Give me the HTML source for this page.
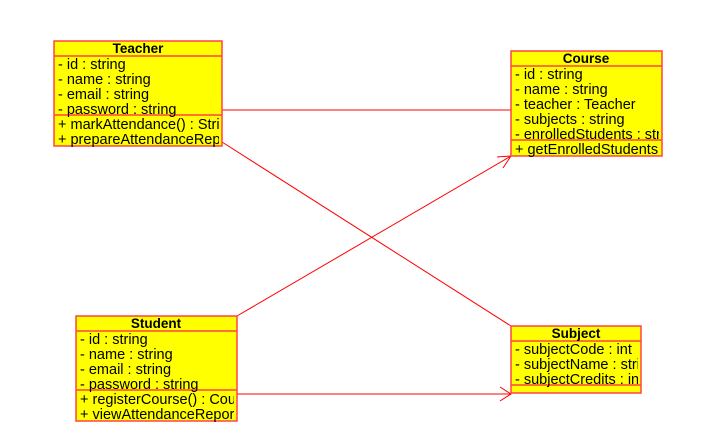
<!DOCTYPE html>
<html><head><style>body{margin:0;background:#fff}svg{display:block}text{font-family:"Liberation Sans",Arial,sans-serif;font-size:14.5px;fill:#000}.h{font-weight:bold;text-anchor:middle;font-size:13.5px}</style></head><body>
<svg width="705" height="435" viewBox="0 0 705 435">
<defs>
<clipPath id="ct"><rect x="54" y="41" width="165" height="106"/></clipPath>
<clipPath id="cc"><rect x="511" y="51" width="148" height="106"/></clipPath>
<clipPath id="cs"><rect x="76" y="316" width="158" height="106"/></clipPath>
<clipPath id="cj"><rect x="511" y="326" width="127" height="68"/></clipPath>
</defs>
<g stroke="#f00" stroke-width="1" fill="none">
<line x1="222" y1="110" x2="511" y2="110"/>
<line x1="222" y1="142" x2="511" y2="326"/>
<line x1="237" y1="316" x2="511" y2="156"/>
<polyline points="497,157 511,156 503,168"/>
<line x1="237" y1="394" x2="511" y2="394"/>
<polyline points="500,387 511,394 500,401"/>
</g>
<g fill="#ff0" stroke="#f44" stroke-width="1.5">
<rect x="54" y="41" width="168" height="105"/>
<rect x="511" y="51" width="151" height="105"/>
<rect x="76" y="316" width="161" height="105"/>
<rect x="511" y="326" width="130" height="67"/>
</g>
<g stroke="#f44" stroke-width="1.5">
<line x1="54" y1="56" x2="222" y2="56"/><line x1="54" y1="115" x2="222" y2="115"/>
<line x1="511" y1="66" x2="662" y2="66"/><line x1="511" y1="140" x2="662" y2="140"/>
<line x1="76" y1="331" x2="237" y2="331"/><line x1="76" y1="390" x2="237" y2="390"/>
<line x1="511" y1="341" x2="641" y2="341"/><line x1="511" y1="385" x2="641" y2="385"/>
</g>
<g clip-path="url(#ct)">
<text class="h" x="138" y="53">Teacher</text>
<text x="58" y="69">- id : string</text><text x="58" y="84">- name : string</text><text x="58" y="99">- email : string</text><text x="58" y="114">- password : string</text>
<text x="58" y="129">+ markAttendance() : String</text><text x="58" y="144">+ prepareAttendanceReport</text>
</g>
<g clip-path="url(#cc)">
<text class="h" x="586" y="63">Course</text>
<text x="515" y="79">- id : string</text><text x="515" y="94">- name : string</text><text x="515" y="109">- teacher : Teacher</text><text x="515" y="124">- subjects : string</text><text x="515" y="139">- enrolledStudents : string</text>
<text x="515" y="154">+ getEnrolledStudents</text>
</g>
<g clip-path="url(#cs)">
<text class="h" x="156" y="328">Student</text>
<text x="80" y="344">- id : string</text><text x="80" y="359">- name : string</text><text x="80" y="374">- email : string</text><text x="80" y="389">- password : string</text>
<text x="80" y="404">+ registerCourse() : Course</text><text x="80" y="419">+ viewAttendanceReport</text>
</g>
<g clip-path="url(#cj)">
<text class="h" x="576" y="338">Subject</text>
<text x="515" y="354">- subjectCode : int</text><text x="515" y="369">- subjectName : string</text><text x="515" y="384">- subjectCredits : int</text>
</g>
</svg>
</body></html>
